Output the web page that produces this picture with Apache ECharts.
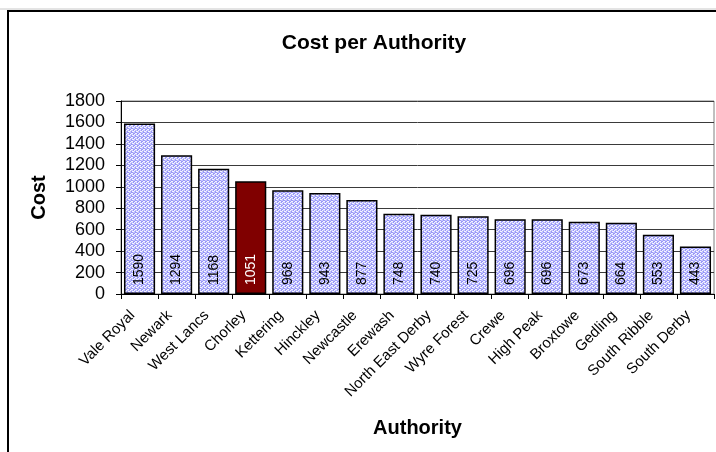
<!DOCTYPE html>
<html>
<head>
<meta charset="utf-8">
<script src="https://cdn.jsdelivr.net/npm/echarts@6/dist/echarts.min.js"></script>
<style>
html,body{margin:0;padding:0;background:#fff;}
#c{width:716px;height:452px;}
</style>
</head>
<body>
<div id="c"></div>
<script>
var categories = ['Vale Royal','Newark','West Lancs','Chorley','Kettering','Hinckley','Newcastle','Erewash','North East Derby','Wyre Forest','Crewe','High Peak','Broxtowe','Gedling','South Ribble','South Derby'];
var costValues = [1590,1294,1168,1051,968,943,877,748,740,725,696,696,673,664,553,443];
var highlighted = 'Chorley';
var yTicks = {min:0, max:1800, interval:200};

// pattern fill resembling the Excel dotted texture
var pc = document.createElement('canvas');
pc.width = 4; pc.height = 4;
var g = pc.getContext('2d');
g.fillStyle = '#f4f4ff'; g.fillRect(0,0,4,4);
g.fillStyle = '#9898f8';
[[0,0],[2,1],[1,2],[3,3],[3,0],[1,1]].forEach(function(p){ g.fillRect(p[0],p[1],1,1); });
g.fillStyle = '#c4c4fc';
[[1,0],[0,2],[2,3],[3,2],[2,0]].forEach(function(p){ g.fillRect(p[0],p[1],1,1); });

var data = categories.map(function(c,i){
  var hl = c === highlighted;
  return {
    value: costValues[i],
    itemStyle: hl ? {color:'#800000'} : {color:{image:pc, repeat:'repeat'}},
    label: {color: hl ? '#ffffff' : '#000000'}
  };
});

var chart = echarts.init(document.getElementById('c'), null, {renderer:'canvas'});
chart.setOption({
  animation:false,
  backgroundColor:'#ffffff',
  title:{
    text:'Cost per Authority',
    left:369, top:28, textAlign:'center',
    textStyle:{fontFamily:'Liberation Sans, Arial', fontWeight:'bold', fontSize:21, color:'#000'}
  },
  graphic:[
    {type:'line', shape:{x1:0,y1:9,x2:716,y2:9}, style:{stroke:'#c8c8c8', lineWidth:1}, silent:true},
    {type:'rect', shape:{x:8,y:11,width:800,height:500}, style:{fill:null, stroke:'#000', lineWidth:2}, silent:true}
  ],
  grid:{left:121, top:101, right:2, bottom:158, show:true, borderColor:'#808080', borderWidth:1, containLabel:false},
  xAxis:{
    type:'category',
    data:categories,
    name:'Authority',
    nameLocation:'middle',
    nameGap:124,
    nameTextStyle:{fontFamily:'Liberation Sans, Arial', fontWeight:'bold', fontSize:20, color:'#000'},
    axisLine:{lineStyle:{color:'#000', width:1}},
    axisTick:{show:true, alignWithLabel:false, length:5, inside:false, lineStyle:{color:'#000'}},
    axisLabel:{rotate:45, interval:0, margin:12, padding:[0,10,0,0], fontFamily:'Liberation Sans, Arial', fontSize:15, color:'#000'},
    splitLine:{show:false}
  },
  yAxis:{
    type:'value',
    min:yTicks.min, max:yTicks.max, interval:yTicks.interval,
    name:'Cost',
    nameLocation:'middle',
    nameGap:72,
    nameRotate:90,
    nameTextStyle:{fontFamily:'Liberation Sans, Arial', fontWeight:'bold', fontSize:20, color:'#000'},
    axisLine:{show:true, lineStyle:{color:'#000', width:1}},
    axisTick:{show:true, length:5, lineStyle:{color:'#000'}},
    axisLabel:{margin:16, fontFamily:'Liberation Sans, Arial', fontSize:18, color:'#000', formatter:function(v){return String(v);}},
    splitLine:{show:true, lineStyle:{color:'#3a3a3a', width:1}}
  },
  series:[{
    type:'bar',
    data:data,
    barCategoryGap:'16%',
    itemStyle:{borderColor:'#000', borderWidth:1.5},
    label:{
      show:true, position:'insideBottom', rotate:90, align:'left', verticalAlign:'middle',
      distance:9, fontFamily:'Liberation Sans, Arial', fontSize:14
    }
  }]
});
</script>
</body>
</html>
